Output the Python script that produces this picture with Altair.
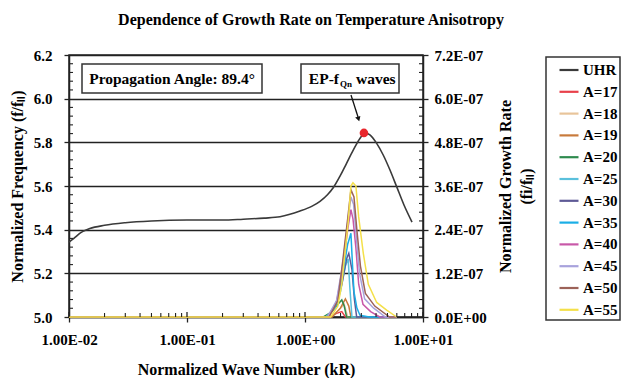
import json
import altair as alt
import pandas as pd

FONT = "Liberation Serif"
TITLE = "Dependence of Growth Rate on Temperature Anisotropy"
X_TITLE = "Normalized Wave Number (kR)"
YL_TITLE = "Normalized Frequency (f/fₗₗ)"
YR_TITLE = ["Normalized Growth Rate", "(fi/fₗₗ)"]
ANGLE_TEXT = "Propagation Angle: 89.4°"

# ---- tick values / labels ----
x_ticks = [0.01, 0.1, 1, 10]
x_tick_labels = ["1.00E-02", "1.00E-01", "1.00E+00", "1.00E+01"]
x_minor = [0.02, 0.03, 0.04, 0.05, 0.06, 0.07, 0.08, 0.09,
           0.2, 0.3, 0.4, 0.5, 0.6, 0.7, 0.8, 0.9,
           2, 3, 4, 5, 6, 7, 8, 9]
yl_ticks = [5.0, 5.2, 5.4, 5.6, 5.8, 6.0, 6.2]
yl_minor = [5.04, 5.08, 5.12, 5.16, 5.24, 5.28, 5.32, 5.36,
            5.44, 5.48, 5.52, 5.56, 5.64, 5.68, 5.72, 5.76,
            5.84, 5.88, 5.92, 5.96, 6.04, 6.08, 6.12, 6.16]
yr_ticks = [0, 1.2, 2.4, 3.6, 4.8, 6.0, 7.2]          # units of 1e-7
yr_tick_labels = ["0.0E+00", "1.2E-07", "2.4E-07", "3.6E-07", "4.8E-07", "6.0E-07", "7.2E-07"]

# ---- UHR curve (left axis) ----
uhr_k = [0.01, 0.011, 0.0125, 0.015, 0.02, 0.03, 0.05, 0.1, 0.2, 0.3, 0.45, 0.614,
         0.907, 1.15, 1.34, 1.55, 1.74, 1.98, 2.25, 2.57, 2.92, 3.25, 3.55, 4.05, 4.6,
         5.25, 5.98, 6.9, 8.07]
uhr_f = [5.343, 5.36, 5.385, 5.405, 5.42, 5.432, 5.44, 5.444, 5.444, 5.448, 5.453, 5.459,
         5.485, 5.508, 5.53, 5.56, 5.593, 5.645, 5.704, 5.765, 5.818, 5.843, 5.834, 5.795, 5.742,
         5.673, 5.597, 5.513, 5.435]

# EP-fQn marker
peak_k = [3.16]
peak_f = [5.843]

# ---- growth-rate curves (right axis, units of 1e-7) ----
series_names = ["UHR", "A=17", "A=18", "A=19", "A=20", "A=25", "A=30",
                "A=35", "A=40", "A=45", "A=50", "A=55"]
series_colors = ["#3a3a3a", "#e8404a", "#e8c49a", "#c87a3c", "#2e8b4e", "#5ac0dc",
                 "#5e5a96", "#1aaee6", "#c858a8", "#a8a2dc", "#9c6258", "#f4e04a"]

g17_k = [0.01, 1.6, 1.85, 2.05, 2.2, 6.0]
g17_g = [0, 0, 0.1, 0.15, 0, 0]
g18_k = [0.01, 1.65, 1.95, 2.15, 2.3, 6.0]
g18_g = [0, 0, 0.2, 0.35, 0, 0]
g19_k = [0.01, 1.7, 2.0, 2.2, 2.35, 2.45, 6.0]
g19_g = [0, 0, 0.25, 0.5, 0.3, 0, 0]
g20_k = [0.01, 1.43, 1.7, 1.9, 2.05, 2.15, 2.25, 6.0]
g20_g = [0, 0, 0.15, 0.35, 0.47, 0.3, 0, 0]
g25_k = [0.01, 1.5, 1.8, 2.0, 2.2, 2.32, 2.4, 2.5, 6.0]
g25_g = [0, 0, 0.25, 0.7, 1.4, 1.6, 0.8, 0, 0]
g30_k = [0.01, 1.55, 1.8, 2.05, 2.25, 2.35, 2.5, 2.62, 2.74, 6.0]
g30_g = [0, 0, 0.3, 0.9, 1.6, 1.75, 1.3, 0.5, 0, 0]
g35_k = [0.01, 1.55, 1.85, 2.1, 2.3, 2.45, 2.52, 2.6, 2.75, 2.92, 3.5, 6.0]
g35_g = [0, 0, 0.35, 1.2, 2.0, 2.3, 1.5, 0.7, 0.25, 0.05, 0, 0]
g40_k = [0.01, 1.55, 1.85, 2.1, 2.3, 2.45, 2.55, 2.7, 2.85, 3.1, 3.6, 4.3, 6.0]
g40_g = [0, 0, 0.4, 1.4, 2.4, 2.95, 2.7, 1.9, 0.9, 0.35, 0.15, 0, 0]
g45_k = [0.01, 1.55, 1.85, 2.1, 2.3, 2.45, 2.58, 2.72, 2.9, 3.2, 3.8, 4.8, 6.0]
g45_g = [0, 0, 0.45, 1.5, 2.6, 3.3, 3.1, 2.2, 1.2, 0.5, 0.25, 0, 0]
g50_k = [0.01, 1.6, 1.9, 2.1, 2.3, 2.45, 2.6, 2.75, 2.95, 3.25, 3.9, 5.2, 6.0]
g50_g = [0, 0, 0.45, 1.6, 2.7, 3.5, 3.3, 2.4, 1.4, 0.65, 0.3, 0, 0]
g55_k = [0.01, 1.65, 1.9, 2.05, 2.18, 2.33, 2.45, 2.55, 2.7, 2.85, 3.12, 3.44, 4.05, 4.92, 5.98]
g55_g = [0, 0, 0.3, 0.9, 1.75, 2.66, 3.6, 3.69, 3.6, 2.75, 1.75, 0.9, 0.4, 0.19, 0]

growth = [("A=17", g17_k, g17_g), ("A=18", g18_k, g18_g), ("A=19", g19_k, g19_g),
          ("A=20", g20_k, g20_g), ("A=25", g25_k, g25_g), ("A=30", g30_k, g30_g),
          ("A=35", g35_k, g35_g), ("A=40", g40_k, g40_g), ("A=45", g45_k, g45_g),
          ("A=50", g50_k, g50_g), ("A=55", g55_k, g55_g)]

W, H = 354, 262

# ---- scales / axes ----
x_scale = alt.Scale(type="log", domain=[0.01, 10], nice=False)
x_axis = alt.Axis(
    values=x_ticks, title=X_TITLE, grid=False, labelFlush=False,
    labelExpr=json.dumps(x_tick_labels) + "[round(log(datum.value)/LN10)+2]",
    labelFont=FONT, labelFontWeight="bold", labelFontSize=15, labelColor="black",
    labelPadding=10, tickSize=5, tickColor="#222", tickWidth=1.3,
    domainColor="#222", domainWidth=1.5,
    titleFont=FONT, titleFontWeight="bold", titleFontSize=16, titleColor="black",
    titlePadding=14,
)
yl_scale = alt.Scale(domain=[5.0, 6.2], nice=False, zero=False)
yl_axis = alt.Axis(
    values=yl_ticks, format=".1f", title=YL_TITLE, grid=True, gridColor="#222",
    gridWidth=1.3, labelFont=FONT, labelFontWeight="bold", labelFontSize=15,
    labelColor="black", labelPadding=12, tickSize=5, tickColor="#222", tickWidth=1.3,
    domainColor="#222", domainWidth=1.5, labelFlush=False,
    titleFont=FONT, titleFontWeight="bold", titleFontSize=16, titleColor="black",
    titlePadding=8,
)
yr_scale = alt.Scale(domain=[0, 7.2], nice=False)
yr_axis = alt.Axis(
    orient="right", values=yr_ticks, title=YR_TITLE, grid=False, labelFlush=False,
    labelExpr=json.dumps(yr_tick_labels) + "[round(datum.value/1.2)]",
    labelFont=FONT, labelFontWeight="bold", labelFontSize=15, labelColor="black",
    labelPadding=6, tickSize=5, tickColor="#222", tickWidth=1.3,
    domainColor="#222", domainWidth=1.5,
    titleFont=FONT, titleFontWeight="bold", titleFontSize=16, titleColor="black",
    titleAngle=270, titlePadding=6, titleLineHeight=21,
)
color_scale = alt.Scale(domain=series_names, range=series_colors)
legend = alt.Legend(
    title=None, orient="none", legendX=477, legendY=2,
    strokeColor="#333", fillColor="white", padding=2,
    symbolType="stroke", symbolSize=361, symbolStrokeWidth=2.2,
    symbolOffset=10, labelOffset=3, rowPadding=2.8,
    labelFont=FONT, labelFontWeight="bold", labelFontSize=15, labelColor="black",
)

# ---- left-axis group ----
uhr_df = pd.DataFrame({"k": uhr_k, "f": uhr_f, "series": "UHR"})
uhr_line = alt.Chart(uhr_df).mark_line(strokeWidth=1.6, interpolate="monotone").encode(
    x=alt.X("k:Q", scale=x_scale, axis=x_axis),
    y=alt.Y("f:Q", scale=yl_scale, axis=yl_axis),
    color=alt.Color("series:N", scale=color_scale, legend=legend),
)
peak_dot = alt.Chart(pd.DataFrame({"k": peak_k, "f": peak_f})).mark_point(
    filled=True, color="#e8262c", size=75, opacity=1
).encode(
    x=alt.X("k:Q", scale=x_scale, axis=x_axis),
    y=alt.Y("f:Q", scale=yl_scale, axis=yl_axis),
)
left_minor = alt.Chart(pd.DataFrame({"v": yl_minor})).mark_rule(color="#222", strokeWidth=1.1).encode(
    y=alt.Y("v:Q", scale=yl_scale, axis=yl_axis), x=alt.value(0), x2=alt.value(4)
)
right_minor = alt.Chart(pd.DataFrame({"v": yl_minor})).mark_rule(color="#222", strokeWidth=1.1).encode(
    y=alt.Y("v:Q", scale=yl_scale, axis=yl_axis), x=alt.value(W - 4), x2=alt.value(W)
)
bottom_minor = alt.Chart(pd.DataFrame({"v": x_minor})).mark_rule(color="#222", strokeWidth=1.1).encode(
    x=alt.X("v:Q", scale=x_scale, axis=x_axis), y=alt.value(H - 4), y2=alt.value(H)
)
bottom_major = alt.Chart(pd.DataFrame({"v": x_ticks})).mark_rule(color="#222", strokeWidth=1.3).encode(
    x=alt.X("v:Q", scale=x_scale, axis=x_axis), y=alt.value(H - 5), y2=alt.value(H)
)

# annotation: propagation angle box
ann1 = pd.DataFrame({"t": [ANGLE_TEXT]})
box1 = alt.Chart(ann1).mark_rect(fill="white", stroke="#333", strokeWidth=1.5).encode(
    x=alt.value(13), x2=alt.value(193), y=alt.value(9), y2=alt.value(38)
)
txt1 = alt.Chart(ann1).mark_text(font=FONT, fontWeight="bold", fontSize=15.5, color="black",
                                 align="center", baseline="middle").encode(
    text="t:N", x=alt.value(103), y=alt.value(24)
)
# annotation: EP-fQn waves box
ann2 = pd.DataFrame({"a": ["EP-f"], "b": ["Qn"], "c": ["waves"]})
box2 = alt.Chart(ann2).mark_rect(fill="white", stroke="#333", strokeWidth=1.5).encode(
    x=alt.value(232), x2=alt.value(330), y=alt.value(9), y2=alt.value(38)
)
txt2a = alt.Chart(ann2).mark_text(font=FONT, fontWeight="bold", fontSize=15.5, color="black",
                                  align="right", baseline="alphabetic").encode(
    text="a:N", x=alt.value(270), y=alt.value(29)
)
txt2b = alt.Chart(ann2).mark_text(font=FONT, fontWeight="bold", fontSize=9, color="black",
                                  align="left", baseline="alphabetic").encode(
    text="b:N", x=alt.value(271), y=alt.value(32)
)
txt2c = alt.Chart(ann2).mark_text(font=FONT, fontWeight="bold", fontSize=15.5, color="black",
                                  align="left", baseline="alphabetic").encode(
    text="c:N", x=alt.value(287), y=alt.value(29)
)
arrow_line = alt.Chart(ann2).mark_rule(color="#111", strokeWidth=1.3).encode(
    x=alt.value(282), y=alt.value(40), x2=alt.value(289), y2=alt.value(62)
)
arrow_head = alt.Chart(ann2).mark_point(shape="triangle-down", filled=True, color="#111",
                                        size=30, angle=342, opacity=1).encode(
    x=alt.value(289.5), y=alt.value(64)
)

left = alt.layer(uhr_line, left_minor, right_minor, bottom_minor, bottom_major,
                 box1, txt1, box2, txt2a, txt2b, txt2c, arrow_line, arrow_head, peak_dot)

# ---- right-axis group ----
right_layers = []
for name, ks, gs in growth:
    df = pd.DataFrame({"k": ks, "g": gs, "series": name})
    right_layers.append(
        alt.Chart(df).mark_line(strokeWidth=1.5).encode(
            x=alt.X("k:Q", scale=x_scale, axis=x_axis),
            y=alt.Y("g:Q", scale=yr_scale, axis=yr_axis),
            color=alt.Color("series:N", scale=color_scale, legend=legend),
            order=alt.Order("k:Q"),
        )
    )
right = alt.layer(*right_layers)

chart = alt.layer(right, left).resolve_scale(y="independent").properties(
    width=W, height=H,
    autosize=alt.AutoSizeParams(type="none"),
    padding={"left": 69, "top": 55, "right": 621 - 69 - W, "bottom": 378 - 55 - H},
    title=alt.TitleParams(text=TITLE, font=FONT, fontSize=16, fontWeight="bold",
                          color="black", anchor="middle", frame="group", dx=65, offset=20),
).configure_view(stroke="#222", strokeWidth=1.5).configure_legend(strokeWidth=1.5)

chart.save("out.html", embed_options={"renderer": "svg", "actions": False})
